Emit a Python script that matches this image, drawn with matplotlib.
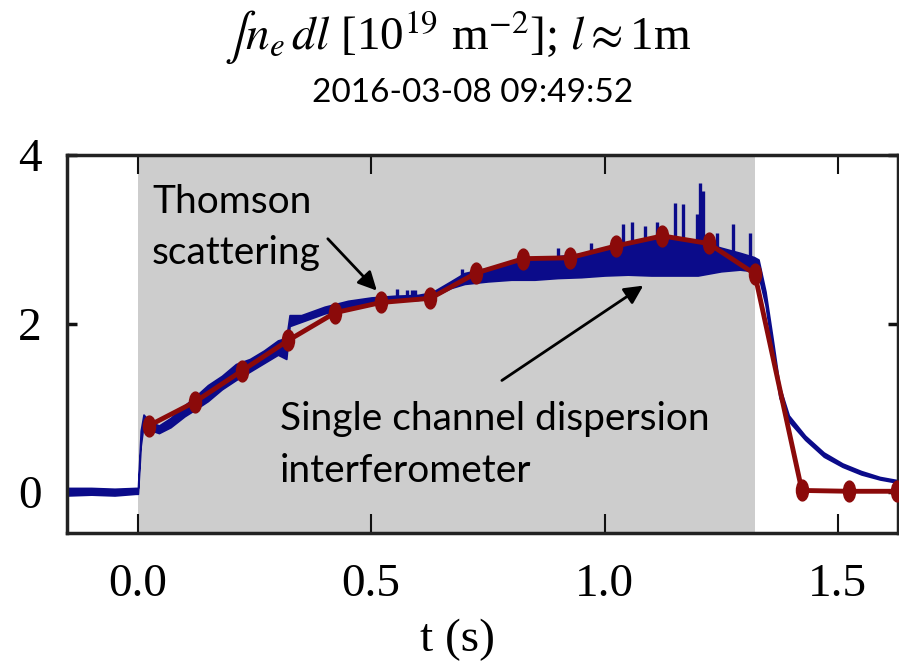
import matplotlib
matplotlib.use('Agg')
import matplotlib.pyplot as plt
import numpy as np
from matplotlib.path import Path

plt.rcParams['font.family'] = ['Liberation Serif', 'DejaVu Serif']
plt.rcParams['mathtext.fontset'] = 'stix'

# Thomson scattering (red markers)
thomson_t = [0.024, 0.122, 0.223, 0.322, 0.423, 0.521, 0.627, 0.725, 0.826,
             0.925, 1.024, 1.124, 1.223, 1.322, 1.423, 1.524, 1.627]
thomson_n = [0.79, 1.07, 1.44, 1.80, 2.13, 2.25, 2.30, 2.60, 2.77,
             2.78, 2.92, 3.04, 2.95, 2.59, 0.02, 0.01, 0.01]

# Single channel dispersion interferometer (blue trace, noise envelope)
sdi_t = [-0.152, -0.10, -0.05, -0.005, 0.000, 0.006, 0.012, 0.025, 0.045, 0.07,
         0.10, 0.12, 0.15, 0.18, 0.21, 0.24, 0.27, 0.30, 0.318, 0.325,
         0.35, 0.40, 0.45, 0.50, 0.55, 0.60, 0.63, 0.67, 0.70, 0.75,
         0.80, 0.85, 0.90, 0.95, 1.00, 1.05, 1.10, 1.15, 1.20, 1.25,
         1.29, 1.32, 1.33, 1.345, 1.36, 1.375, 1.395, 1.43, 1.47, 1.51,
         1.55, 1.59, 1.64]
sdi_lo = [-0.04, -0.03, -0.04, -0.02, -0.02, 0.55, 0.80, 0.74, 0.70, 0.77,
          0.90, 0.97, 1.08, 1.22, 1.33, 1.43, 1.53, 1.63, 1.58, 1.97,
          2.02, 2.12, 2.19, 2.25, 2.27, 2.28, 2.31, 2.42, 2.47, 2.50,
          2.52, 2.52, 2.54, 2.55, 2.57, 2.58, 2.57, 2.57, 2.57, 2.62,
          2.64, 2.62, 2.57, 2.22, 1.67, 1.12, 0.84, 0.62, 0.42, 0.30,
          0.21, 0.15, 0.10]
sdi_hi = [0.05, 0.05, 0.04, 0.05, 0.05, 0.73, 0.92, 0.84, 0.79, 0.88,
          1.03, 1.12, 1.27, 1.38, 1.52, 1.58, 1.68, 1.80, 1.83, 2.10,
          2.10, 2.20, 2.27, 2.31, 2.33, 2.34, 2.37, 2.50, 2.60, 2.66,
          2.72, 2.76, 2.80, 2.83, 2.90, 2.97, 3.02, 3.02, 2.98, 2.90,
          2.84, 2.79, 2.76, 2.38, 1.83, 1.26, 0.91, 0.67, 0.47, 0.34,
          0.25, 0.18, 0.13]
spike_t = [0.555, 0.577, 0.587, 0.594, 0.695, 0.90, 0.97, 1.040, 1.059, 1.087,
           1.113, 1.151, 1.168, 1.198, 1.205, 1.211, 1.241, 1.275, 1.312]
spike_top = [2.41, 2.40, 2.40, 2.40, 2.65, 2.90, 2.95, 3.18, 3.20, 3.16,
             3.20, 3.43, 3.42, 3.30, 3.67, 3.57, 3.07, 3.18, 3.07]

shade_span = [0.0, 1.322]
xticks = [0.0, 0.5, 1.0, 1.5]
yticks = [0, 2, 4]

blue = '#0b0b8a'
red = '#8b0a0a'

fig = plt.figure(figsize=(8.99, 6.64), dpi=100)
ax = fig.add_axes([67 / 899, 1 - 533 / 664, (898 - 67) / 899, (533 - 155) / 664])
ax.axvspan(shade_span[0], shade_span[1], color='#cdcdcd', lw=0, zorder=0)

ax.fill_between(sdi_t, sdi_lo, sdi_hi, color=blue, lw=1.2, zorder=2)
mid = (np.array(sdi_lo) + np.array(sdi_hi)) / 2
base = np.interp(spike_t, sdi_t, mid)
ax.vlines(spike_t, base, spike_top, color=blue, lw=2.4, zorder=2)

circ = Path.unit_circle()
ell = Path(circ.vertices * np.array([0.58, 1.0]), circ.codes)
ax.plot(thomson_t, thomson_n, color=red, lw=3.5, marker=ell, ms=15,
        mfc=red, mec=red, zorder=3)

ax.set_xlim(-0.152, 1.629)
ax.set_ylim(-0.485, 3.99)
ax.set_xticks(xticks)
ax.set_xticklabels(['%.1f' % v for v in xticks])
ax.set_yticks(yticks)
ax.tick_params(axis='x', direction='in', length=14, width=1.5, top=True,
               labelsize=34, pad=22, color='#111111')
ax.tick_params(axis='y', direction='in', length=7, width=2.5, right=True,
               labelsize=34, pad=18, color='#111111')
for s in ax.spines.values():
    s.set_linewidth(2.5)
    s.set_color('#222222')

sans = ['Lato', 'DejaVu Sans']
fs = 28
ax.text(0.030, 3.31, 'Thomson', fontsize=fs, family=sans, ha='left', va='baseline', zorder=4)
ax.text(0.030, 2.71, 'scattering', fontsize=fs, family=sans, ha='left', va='baseline', zorder=4)
ax.text(0.304, 0.734, 'Single channel dispersion', fontsize=fs, family=sans,
        ha='left', va='baseline', zorder=4)
ax.text(0.304, 0.118, 'interferometer', fontsize=fs, family=sans,
        ha='left', va='baseline', zorder=4)

arrow = dict(arrowstyle='-|>', lw=2, color='black', mutation_scale=28,
             shrinkA=0, shrinkB=0)
ax.annotate('', xy=(0.512, 2.391), xytext=(0.407, 3.006), arrowprops=arrow, zorder=5)
ax.annotate('', xy=(1.083, 2.450), xytext=(0.780, 1.325), arrowprops=arrow, zorder=5)

fig.text(458 / 899, 1 - 37 / 664,
         r'$\int n_e\,dl$ [10$^{19}$ m$^{-2}$]; $l\approx$1m',
         fontsize=34, ha='center', va='center')
fig.text(473 / 899, 1 - 93 / 664, '2016-03-08 09:49:52', fontsize=24,
         family=sans, ha='center', va='center')
fig.text(457 / 899, 1 - 640 / 664, 't (s)', fontsize=34, ha='center', va='center')

fig.savefig('out.png', dpi=100)
